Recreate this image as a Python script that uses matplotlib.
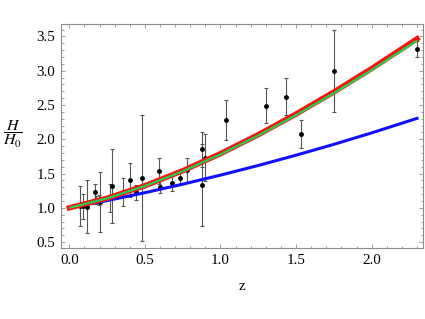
import numpy as np
import matplotlib
matplotlib.use("Agg")
import matplotlib.pyplot as plt
from matplotlib.ticker import MultipleLocator, FormatStrFormatter

plt.rcParams['font.family'] = ['Liberation Serif', 'DejaVu Serif']
plt.rcParams['mathtext.fontset'] = 'stix'

# observed H(z)/H0 with 1-sigma errors
z_obs = [0.07, 0.09, 0.12, 0.17, 0.179, 0.199, 0.2, 0.27, 0.28, 0.352,
         0.4, 0.44, 0.48, 0.593, 0.6, 0.68, 0.73, 0.781, 0.875, 0.88,
         0.9, 1.037, 1.3, 1.43, 1.53, 1.75, 2.3]
h_obs = [1.022, 1.022, 1.016, 1.230, 1.111, 1.111, 1.080, 1.141, 1.316, 1.230,
         1.407, 1.224, 1.437, 1.541, 1.302, 1.363, 1.441, 1.556, 1.852, 1.333,
         1.733, 2.281, 2.489, 2.622, 2.074, 2.993, 3.319]
h_err = [0.290, 0.178, 0.388, 0.119, 0.059, 0.074, 0.439, 0.207, 0.542, 0.207,
         0.252, 0.116, 0.919, 0.193, 0.090, 0.119, 0.104, 0.178, 0.252, 0.593,
         0.341, 0.296, 0.252, 0.267, 0.207, 0.593, 0.119]

# model curves
z_model = [0.0, 0.25, 0.5, 0.75, 1.0, 1.25, 1.5, 1.75, 2.0, 2.3]
h_red = [1.000, 1.140, 1.322, 1.541, 1.790, 2.067, 2.368, 2.690, 3.031, 3.465]
h_green = [1.000, 1.138, 1.318, 1.533, 1.780, 2.055, 2.352, 2.672, 3.010, 3.440]
h_blue = [1.000, 1.106, 1.221, 1.345, 1.477, 1.618, 1.768, 1.926, 2.093, 2.305]

fig = plt.figure(figsize=(4.25, 3.19), dpi=100)
ax = fig.add_axes([0.1435, 0.2216, 0.852, 0.7041])

ax.errorbar(z_obs, h_obs, yerr=h_err, fmt='o', color='black', ms=2.5,
            ecolor='#555555', elinewidth=0.8, capsize=1.5, capthick=0.8, zorder=2)

ax.plot(z_model, h_blue, color='#1010ff', lw=2.2, zorder=3)
ax.plot(z_model, h_red, color='#ff1010', lw=3.9, zorder=4)
ax.plot(z_model, h_green, color='#20d050', lw=1.6, zorder=5, solid_capstyle='butt')

ax.set_xlim(-0.055, 2.34)
ax.set_ylim(0.41, 3.685)

ax.xaxis.set_major_locator(MultipleLocator(0.5))
ax.xaxis.set_minor_locator(MultipleLocator(0.1))
ax.yaxis.set_major_locator(MultipleLocator(0.5))
ax.yaxis.set_minor_locator(MultipleLocator(0.1))
ax.xaxis.set_major_formatter(FormatStrFormatter('%.1f'))
ax.yaxis.set_major_formatter(FormatStrFormatter('%.1f'))

ax.tick_params(which='both', direction='in', top=True, right=True,
               color='#8c8c8c', width=0.6, labelsize=10.8, labelcolor='black')
ax.tick_params(which='major', length=3.2, pad=4)
ax.tick_params(which='minor', length=1.8)
for s in ax.spines.values():
    s.set_color('#8c8c8c')
    s.set_linewidth(0.8)

fig.text(242 / 425, 1 - 287 / 319, 'z', ha='center', va='center', fontsize=11)
fig.text(13 / 425, 1 - 134 / 319, r'$\dfrac{H}{H_0}$', ha='center', va='center',
         fontsize=11.5)

fig.savefig('out.png', dpi=100)
